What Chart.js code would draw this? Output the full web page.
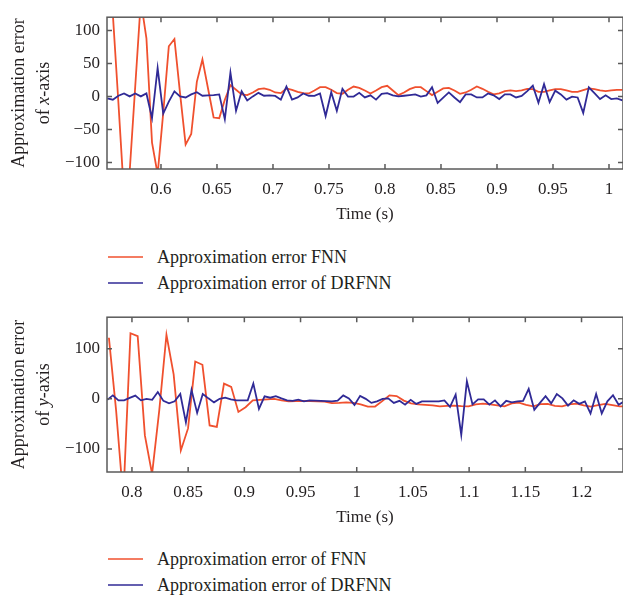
<!DOCTYPE html>
<html>
<head>
<meta charset="utf-8">
<script src="https://cdn.jsdelivr.net/npm/chart.js@4.4.1/dist/chart.umd.min.js"></script>
<style>
  body { margin: 0; background: #fff; width: 623px; height: 599px; overflow: hidden; position: relative;
         font-family: "Liberation Serif", serif; color: #231f20; }
  canvas { position: absolute; left: 0; }
  .legend { position: absolute; left: 108px; }
  .item { position: relative; height: 26px; }
  .item i { position: absolute; left: 0; top: 12px; width: 35px; height: 2px; opacity: 0.75; }
  .item span { position: absolute; left: 49px; top: 0; font-size: 18px; line-height: 26px; white-space: nowrap; }
</style>
</head>
<body>
<canvas id="chartX" width="626" height="232" style="top:0"></canvas>
<div class="legend" id="legendX" style="top:244px"></div>
<canvas id="chartY" width="626" height="235" style="top:300px"></canvas>
<div class="legend" id="legendY" style="top:546px"></div>
<script>
// ---- top panel: approximation error of x-axis ----
const TIME_X = [0.552, 0.557, 0.562, 0.567, 0.572, 0.577, 0.582, 0.587, 0.592, 0.597,
  0.602, 0.607, 0.612, 0.617, 0.622, 0.627, 0.632, 0.637, 0.642, 0.647,
  0.652, 0.657, 0.662, 0.667, 0.672, 0.677, 0.682, 0.687, 0.692, 0.697,
  0.702, 0.707, 0.712, 0.717, 0.722, 0.727, 0.732, 0.737, 0.742, 0.747,
  0.752, 0.757, 0.762, 0.767, 0.772, 0.777, 0.782, 0.787, 0.792, 0.797,
  0.802, 0.807, 0.812, 0.817, 0.822, 0.827, 0.832, 0.837, 0.842, 0.847,
  0.852, 0.857, 0.862, 0.867, 0.872, 0.877, 0.882, 0.887, 0.892, 0.897,
  0.902, 0.907, 0.912, 0.917, 0.922, 0.927, 0.932, 0.937, 0.942, 0.947,
  0.952, 0.957, 0.962, 0.967, 0.972, 0.977, 0.982, 0.987, 0.992, 0.997,
  1.002, 1.007, 1.012];
const FNN_X = [160, 125, -10, -150, -115, 15, 145, 88, -70, -118,
  -25, 76, 87, 5, -73, -57, 22, 56, 12, -32,
  -33, -5, 17, 10, 3, 2, 6, 11, 12, 10,
  6, 5, 12, 10, 7, 5, 4.5, 9, 14, 14,
  10, 5, 4, 10, 15, 13, 9, 4.5, 9, 14,
  16, 9, 2, 6, 11, 14, 14, 8, 2, 7,
  12, 13, 9, 4, 6, 10, 15, 11.5, 7, 3,
  4.5, 8, 9, 8, 9, 11.5, 11, 7, 7, 9,
  11, 11, 9, 7, 7, 9.5, 12, 11, 9, 8,
  9, 10, 10];
const DRFNN_X = [-3, -5, 1, 4.5, 0, 4.5, 0, 4.5, -33, 43,
  -26, -8, 7.7, 0, -1.6, 3, 6.3, 1, 1.6, 2,
  3, -34.5, 36, -21.8, 7.7, -6.3, 0, 5.4, 1, 1.6,
  0.7, -4.9, 14.8, -4.9, -1.6, 4.5, 1, 0.7, 4.5, -29.8,
  6.3, -21.8, 11.5, -0.3, -0.3, 5.4, -1.6, 1.6, -4.9, 4,
  5, 1.6, 0, 1, 2, 3, -0.3, 1.6, 13.8, -10,
  -2, 6, -1.6, -8.7, 3, 3, -1.6, -1.6, 4.5, 1.6,
  -4, 3, 3, -1.6, 0.7, 8, 16.2, -9.6, 18.6, -8.7,
  8.7, 3, -4.9, -0.3, -1.6, -25, 13.8, 5, -4, 1.6,
  -4, -3, -6];
const X_TICKS_TOP = [0.6, 0.65, 0.7, 0.75, 0.8, 0.85, 0.9, 0.95, 1];
const Y_TICKS_TOP = [-100, -50, 0, 50, 100];
const LEGEND_TOP = ['Approximation error FNN', 'Approximation error of DRFNN'];

// ---- bottom panel: approximation error of y-axis ----
const TIME_Y_FNN = [0.7795, 0.7859, 0.7923, 0.7987, 0.8051, 0.8115, 0.8179, 0.8243, 0.8307, 0.8371,
  0.8435, 0.8499, 0.8563, 0.8627, 0.8691, 0.8755, 0.8819, 0.8883, 0.8947, 0.9011,
  0.9075, 0.9139, 0.9203, 0.9267, 0.9331, 0.9395, 0.9459, 0.9523, 0.9587, 0.9651,
  0.9715, 0.9779, 0.9843, 0.9907, 0.9971, 1.0035, 1.0099, 1.0163, 1.0227, 1.0291,
  1.0355, 1.0419, 1.0483, 1.0547, 1.0611, 1.0675, 1.0739, 1.0803, 1.0867, 1.0931,
  1.0995, 1.1059, 1.1123, 1.1187, 1.1251, 1.1315, 1.1379, 1.1443, 1.1507, 1.1571,
  1.1635, 1.1699, 1.1763, 1.1827, 1.1891, 1.1955, 1.2019, 1.2083, 1.2147, 1.2211,
  1.2275, 1.2339, 1.2403];
const FNN_Y = [122, -23, -200, 131, 125, -73, -150, -23, 128, 49,
  -103, -59, 74.5, 68, -53, -56, 30.5, 24, -26, -16.6,
  -3, -2, -1, 0, -3, -5, -4.5, -4, -4.5, -5,
  -5.5, -8.5, -8, -7, -8, -11, -15.4, -15.4, -4.5, 7,
  5.5, -3.5, -9, -11, -12, -13, -15, -14, -13.6, -14.5,
  -15, -11, -9.5, -11, -13, -15, -9, -7.5, -12, -15,
  -10.5, -10, -14, -15, -11, -9.5, -13, -15.4, -12.5, -10,
  -12.5, -15, -15.4];
const TIME_Y_DRFNN = [0.778, 0.783, 0.788, 0.793, 0.798, 0.803, 0.808, 0.813, 0.818, 0.823,
  0.828, 0.833, 0.838, 0.843, 0.848, 0.853, 0.858, 0.863, 0.868, 0.873,
  0.878, 0.883, 0.888, 0.893, 0.898, 0.903, 0.908, 0.913, 0.918, 0.923,
  0.928, 0.933, 0.938, 0.943, 0.948, 0.953, 0.958, 0.963, 0.968, 0.973,
  0.978, 0.983, 0.988, 0.993, 0.998, 1.003, 1.008, 1.013, 1.018, 1.023,
  1.028, 1.033, 1.038, 1.043, 1.048, 1.053, 1.058, 1.063, 1.068, 1.073,
  1.078, 1.083, 1.088, 1.093, 1.098, 1.103, 1.108, 1.113, 1.118, 1.123,
  1.128, 1.133, 1.138, 1.143, 1.148, 1.153, 1.158, 1.163, 1.168, 1.173,
  1.178, 1.183, 1.188, 1.193, 1.198, 1.203, 1.208, 1.213, 1.218, 1.223,
  1.228, 1.233, 1.238];
const DRFNN_Y = [-2, 7, -3, -3, 2, 6.6, -3, 0, -2, 13.6,
  -4, -9, -5, 9.7, -47, 18, -28, 9.7, 1, -7,
  0, 2.3, -1, -3, -3, -3, 30.5, -20, 5, 2.3,
  5.3, 1, -3, -4, -1.5, -5, -3, -3.5, -4, -4.5,
  -5, -3.5, 7, 1, -12, 6, 0, -8, -5, 0,
  1, -8, -4, -11.6, -2, -10, -5, -5, -5, -5,
  -3, -16, 8.5, -72, 35, -11, -1, -1, -11.6, -3,
  -15, -4, -7, -5, -4, 19.8, -21.7, -8, 5.3, -9,
  9.7, 1, -13.6, -3, -10, -5, -29, 9.7, -29, -5,
  7.2, -11.6, -5];
const X_TICKS_BOTTOM = [0.8, 0.85, 0.9, 0.95, 1, 1.05, 1.1, 1.15, 1.2];
const Y_TICKS_BOTTOM = [-100, 0, 100];
const LEGEND_BOTTOM = ['Approximation error of FNN', 'Approximation error of DRFNN'];

const RED = '#f0502e';
const BLUE = '#302a96';
const TEXT = '#231f20';
const FONT = { family: 'Liberation Serif', size: 17 };

// box around the plot with inward tick marks on all four sides
const frameTicks = {
  id: 'frameTicks',
  afterDatasetsDraw(chart) {
    const { ctx, chartArea: a, scales: { x, y } } = chart;
    ctx.save();
    ctx.strokeStyle = '#5a5a5a';
    ctx.lineWidth = 1.5;
    ctx.strokeRect(a.left, a.top, a.right - a.left, a.bottom - a.top);
    ctx.beginPath();
    x.ticks.forEach(t => {
      const px = x.getPixelForValue(t.value);
      ctx.moveTo(px, a.bottom); ctx.lineTo(px, a.bottom - 5);
      ctx.moveTo(px, a.top); ctx.lineTo(px, a.top + 5);
    });
    y.ticks.forEach(t => {
      const py = y.getPixelForValue(t.value);
      ctx.moveTo(a.left, py); ctx.lineTo(a.left + 5, py);
      ctx.moveTo(a.right, py); ctx.lineTo(a.right - 5, py);
    });
    ctx.stroke();
    ctx.restore();
  }
};

// two-line rotated y title, the axis letter in italics
const yTitle = {
  id: 'yTitle',
  afterDraw(chart, args, opts) {
    const { ctx, chartArea: a } = chart;
    const cy = (a.top + a.bottom) / 2;
    const normal = '18px "Liberation Serif"';
    const italic = 'italic 18px "Liberation Serif"';
    ctx.save();
    ctx.fillStyle = TEXT;
    ctx.textBaseline = 'middle';
    ctx.translate(19, cy);
    ctx.rotate(-Math.PI / 2);
    ctx.font = normal;
    ctx.textAlign = 'center';
    ctx.fillText(opts.line1, 0, 0);
    ctx.restore();

    const parts = [['of ', normal], [opts.letter, italic], ['-axis', normal]];
    ctx.save();
    ctx.fillStyle = TEXT;
    ctx.textBaseline = 'middle';
    ctx.textAlign = 'left';
    ctx.translate(44, cy);
    ctx.rotate(-Math.PI / 2);
    let total = 0;
    parts.forEach(p => { ctx.font = p[1]; total += ctx.measureText(p[0]).width; });
    let pos = -total / 2;
    parts.forEach(p => {
      ctx.font = p[1];
      ctx.fillText(p[0], pos, 0);
      pos += ctx.measureText(p[0]).width;
    });
    ctx.restore();
  }
};

function fmtY(v) { return v < 0 ? '\u2212' + Math.abs(v) : String(v); }

function pts(xs, ys) { return ys.map((v, i) => ({ x: xs[i], y: v })); }

function makeChart(id, p) {
  return new Chart(document.getElementById(id), {
    type: 'line',
    data: {
      datasets: [{
        label: p.labels[0],
        data: pts(p.tFnn, p.fnn),
        borderColor: RED,
        borderWidth: 1.8,
        order: 2
      }, {
        label: p.labels[1],
        data: pts(p.tDrfnn, p.drfnn),
        borderColor: BLUE,
        borderWidth: 1.8,
        order: 1
      }]
    },
    options: {
      responsive: false,
      animation: false,
      clip: 0,
      elements: { point: { radius: 0 }, line: { tension: 0 } },
      layout: { padding: { top: p.padTop, left: 0, right: 3, bottom: 0 } },
      plugins: {
        legend: { display: false },
        tooltip: { enabled: false },
        yTitle: { line1: 'Approximation error', letter: p.letter }
      },
      scales: {
        x: {
          type: 'linear',
          min: p.xMin, max: p.xMax,
          afterBuildTicks: s => { s.ticks = p.xTicks.map(v => ({ value: v })); },
          afterFit: s => { s.height = p.axisH; },
          ticks: { font: FONT, color: TEXT, padding: 10, maxRotation: 0, autoSkip: false, callback: v => String(v) },
          grid: { display: false, drawTicks: false },
          border: { display: false },
          title: { display: true, text: 'Time (s)', font: FONT, color: TEXT, padding: { top: 0, bottom: 7 } }
        },
        y: {
          type: 'linear',
          min: p.yMin, max: p.yMax,
          afterBuildTicks: s => { s.ticks = p.yTicks.map(v => ({ value: v })); },
          afterFit: s => { s.width = 107; },
          ticks: { font: FONT, color: TEXT, padding: 7, callback: fmtY },
          grid: { display: false, drawTicks: false },
          border: { display: false }
        }
      }
    },
    plugins: [frameTicks, yTitle]
  });
}

function makeLegend(id, labels) {
  const box = document.getElementById(id);
  [RED, BLUE].forEach((c, i) => {
    const row = document.createElement('div');
    row.className = 'item';
    row.innerHTML = '<i style="background:' + c + '"></i><span>' + labels[i] + '</span>';
    box.appendChild(row);
  });
}

makeChart('chartX', {
  labels: LEGEND_TOP, letter: 'x',
  tFnn: TIME_X, fnn: FNN_X, tDrfnn: TIME_X, drfnn: DRFNN_X,
  xMin: 0.5518, xMax: 1.0125, yMin: -110, yMax: 120,
  xTicks: X_TICKS_TOP, yTicks: Y_TICKS_TOP,
  padTop: 5, axisH: 63
});
makeChart('chartY', {
  labels: LEGEND_BOTTOM, letter: 'y',
  tFnn: TIME_Y_FNN, fnn: FNN_Y, tDrfnn: TIME_Y_DRFNN, drfnn: DRFNN_Y,
  xMin: 0.7778, xMax: 1.2369, yMin: -146, yMax: 163,
  xTicks: X_TICKS_BOTTOM, yTicks: Y_TICKS_BOTTOM,
  padTop: 8, axisH: 63
});
makeLegend('legendX', LEGEND_TOP);
makeLegend('legendY', LEGEND_BOTTOM);
</script>
</body>
</html>
